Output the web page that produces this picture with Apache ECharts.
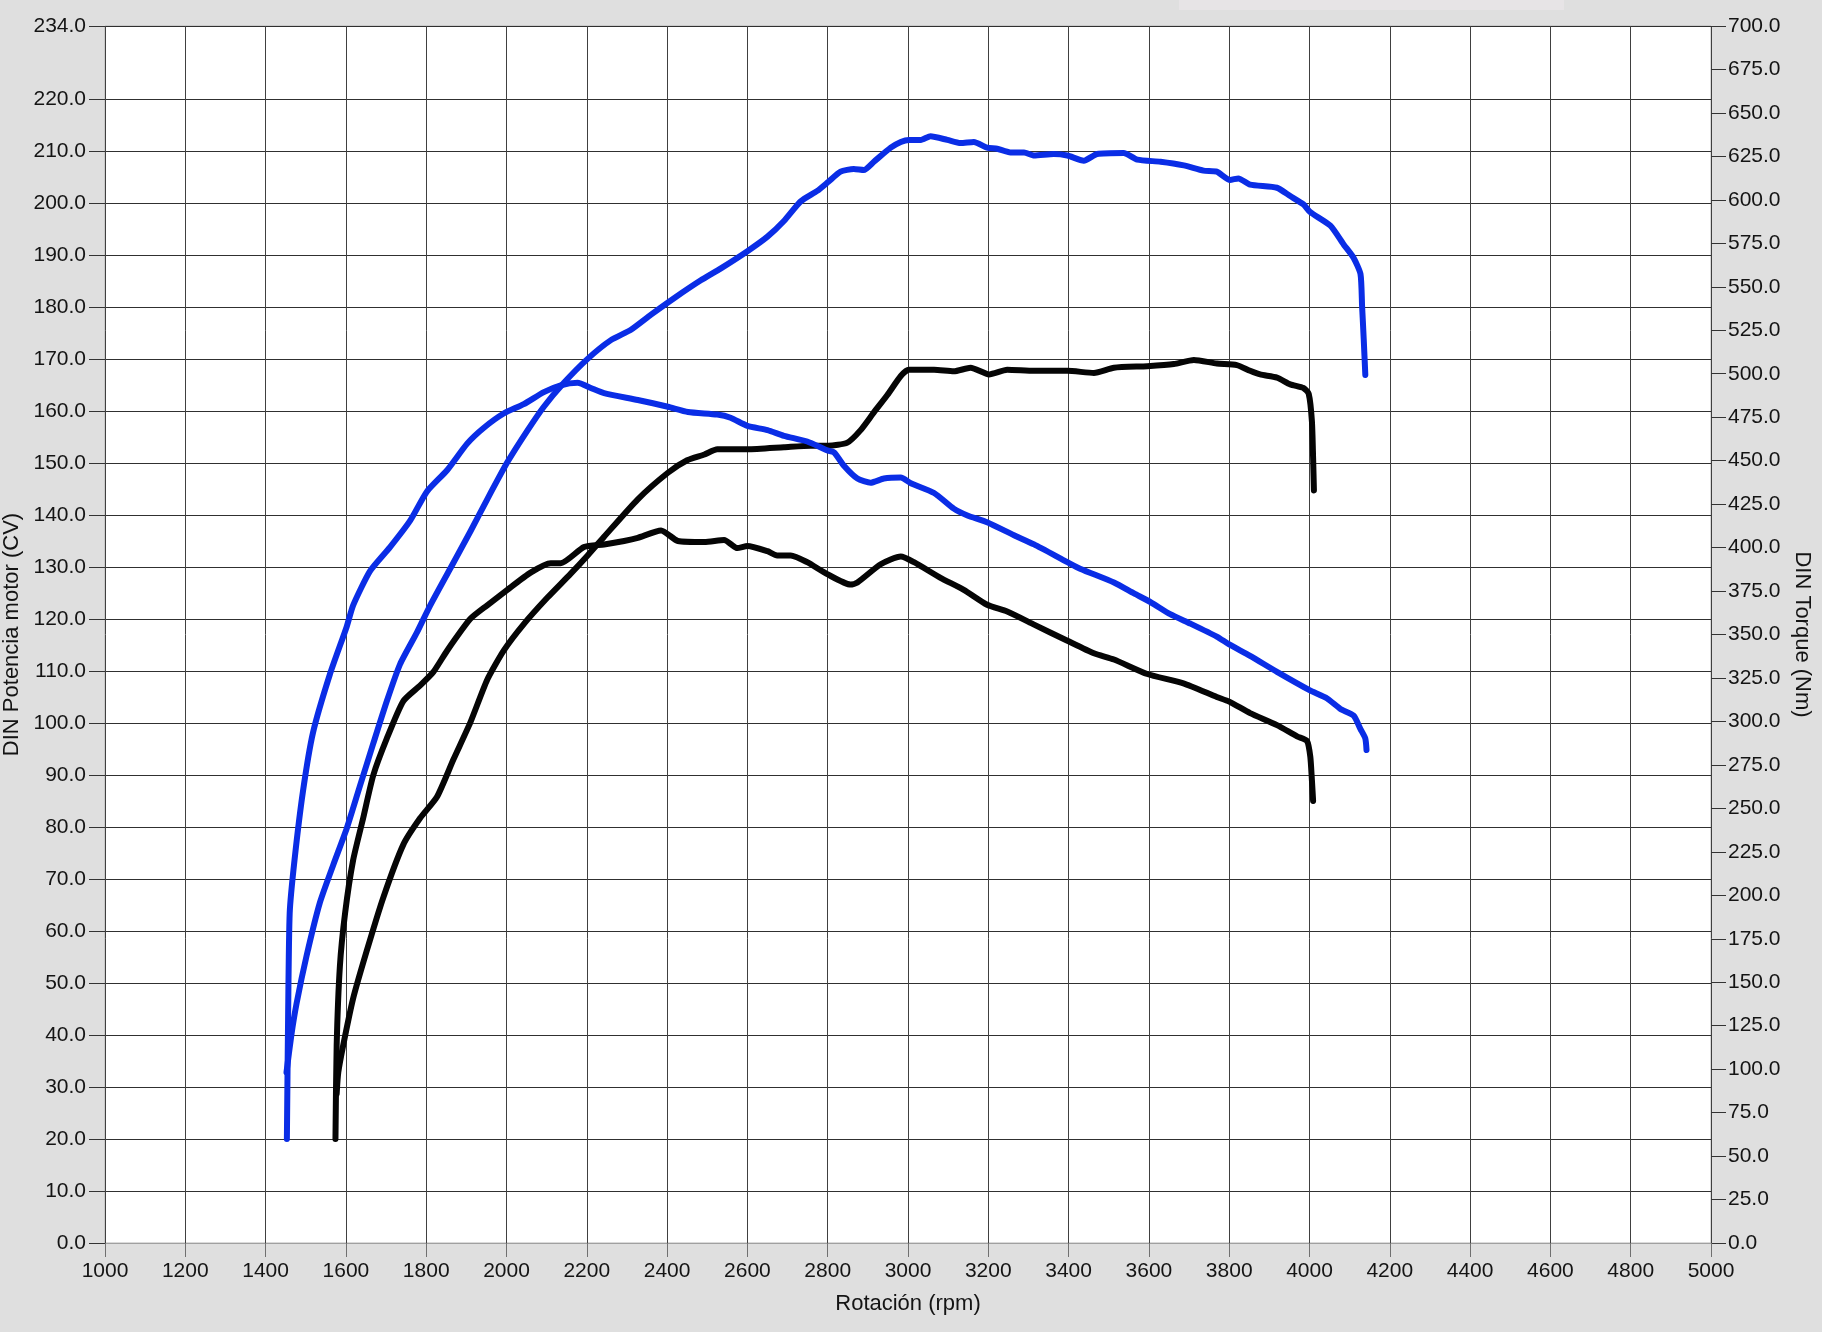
<!DOCTYPE html>
<html>
<head>
<meta charset="utf-8">
<script src="https://cdn.jsdelivr.net/npm/echarts@6/dist/echarts.min.js"></script>
<style>
  html, body { margin: 0; padding: 0; background: #dfdfdf; }
  #chart { width: 1822px; height: 1340px; }
</style>
</head>
<body>
<div id="chart"></div>
<script>
// ---- Data ----
const xTickStart = 1000, xTickEnd = 5000, xTickStep = 200;
const leftLabelValues = [0,10,20,30,40,50,60,70,80,90,100,110,120,130,140,150,160,170,180,190,200,210,220,234];

// Blue – power (CV, left axis)
const bluePowerRpm = [1452,1464,1477,1502,1535,1568,1602,1635,1668,1702,1735,1777,1810,1860,1910,1952,2002,2052,2093,2143,2202,2260,2310,2360,2420,2484,2534,2600,2650,2691,2733,2774,2801,2832,2865,2890,2915,2957,2982,3002,3032,3056,3098,3131,3164,3197,3222,3255,3289,3314,3363,3397,3438,3471,3537,3571,3629,3687,3736,3769,3802,3823,3852,3919,3952,3985,4002,4052,4085,4110,4127,4131,4135,4139];
const bluePowerCV  = [32.8,39.9,46,55.2,65.4,72.6,79.7,87.9,96,104.2,111.3,117.4,122.6,129.7,136.8,143,150.1,156.2,160.8,165.4,170,173.6,175.6,178.5,181.8,185.1,187.4,190.7,193.5,196.5,200.3,202.3,204,206,206.5,206.3,207.9,210.6,211.7,212.1,212.1,212.8,212.1,211.5,211.7,210.6,210.4,209.7,209.7,209.1,209.4,209.1,208.1,209.4,209.6,208.3,207.9,207.2,206.2,206,204.4,204.7,203.5,202.9,201.3,199.7,198.2,195.6,192,189.4,186.3,180.1,173.9,166.9];

// Blue – torque (Nm, right axis)
const blueTorqueRpm = [1453,1456,1460,1472,1493,1518,1560,1602,1618,1660,1710,1760,1802,1852,1902,1943,1993,2043,2093,2135,2177,2210,2243,2327,2402,2452,2525,2558,2600,2650,2691,2749,2799,2816,2841,2874,2907,2940,2982,3007,3065,3114,3148,3197,3264,3314,3397,3430,3513,3563,3605,3653,3703,3769,3800,3852,3919,4000,4044,4077,4110,4127,4139,4142];
const blueTorqueNm  = [59.8,128.6,189.7,220.2,259.7,293.5,327,354.5,366.8,386.5,400.3,415.5,432.3,444.5,459.8,468.8,477.1,482.5,489.4,493.3,494.8,491.8,488.8,484.9,481,478,476.5,474.7,470,467.6,464.3,461,455.9,454.7,446.9,439.7,437.3,439.7,440.3,437,431.4,422.4,418.5,414.6,407.1,401.8,391.6,387.7,379.9,373.6,368.5,361.7,356.3,348.8,344.3,337.7,328.5,318,313.2,307.2,303.3,295.6,290.2,283.6];

// Black – power (CV, left axis)
const blackPowerRpm = [1577,1581,1593,1618,1652,1693,1743,1785,1827,1868,1910,1952,1993,2043,2102,2160,2202,2243,2327,2402,2450,2493,2525,2600,2691,2758,2801,2849,2882,2915,2949,2982,3002,3065,3114,3156,3202,3247,3314,3397,3463,3513,3596,3662,3712,3769,3819,3852,3877,3919,3952,3985,3998,4006,4009,4011];
const blackPowerCV  = [28.7,32.8,37.9,47,56.2,66.4,76.6,81.7,85.8,93,100.1,108.3,113.9,119,124.1,128.7,132.2,135.8,143,148.1,150.5,151.6,152.6,152.6,153,153.3,153.3,153.9,156.3,159.7,163.1,166.7,167.9,167.9,167.6,168.3,167,167.9,167.7,167.7,167.3,168.3,168.6,169,169.8,169.1,168.8,167.7,167,166.4,165.1,164.4,163.3,158,150.9,144.7];

// Black – torque (Nm, right axis)
const blackTorqueRpm = [1574,1577,1585,1598,1618,1643,1668,1702,1743,1785,1818,1852,1910,1952,2002,2060,2110,2135,2193,2243,2293,2327,2385,2427,2493,2542,2575,2600,2650,2674,2708,2749,2799,2857,2874,2932,2982,3015,3081,3139,3197,3247,3314,3397,3463,3513,3596,3686,3769,3800,3852,3919,3969,3994,4002,4006,4009];
const blackTorqueNm  = [59.8,113.4,159.1,189.7,220.2,244.4,268.9,290.2,311.7,320.7,328.5,340.7,359,366.8,375.7,385.6,391,391,400.3,401.8,403.8,405.6,409.8,403.8,403.2,404.4,399.7,400.9,397.9,395.5,395.5,391.6,384.7,378.7,379.9,390.4,394.9,391.6,382.6,375.7,367.1,363.2,355.7,346.4,339.2,335.6,327.3,321.9,314.1,311.4,304.8,297.9,291.4,288.7,279.7,266.2,254.3];

const zip = (xs, ys) => xs.map((x, i) => [x, ys[i]]);

const FONT = "'Liberation Sans', Arial, Helvetica, sans-serif";
const TXT = '#141414';
const BLUE = '#0a2de6';
const BLACK = '#050505';

const chart = echarts.init(document.getElementById('chart'), null, { renderer: 'canvas' });

const lineSeries = (name, axis, data, color, z) => ({
  name, type: 'line', yAxisIndex: axis, data,
  showSymbol: false, smooth: 0.2,
  lineStyle: { color, width: 6, cap: 'round', join: 'round' }, z
});

const option = {
  animation: false,
  backgroundColor: '#dfdfdf',
  textStyle: { fontFamily: FONT, color: TXT },
  grid: {
    left: 105, right: 111, top: 26, bottom: 97,
    containLabel: false, outerBoundsMode: 'none',
    show: true, backgroundColor: '#ffffff', borderColor: '#b4b4b4', borderWidth: 1
  },
  graphic: [
    { type: 'rect', left: 0, top: 1332, shape: { width: 1822, height: 8 }, style: { fill: '#ffffff' }, silent: true },
    { type: 'rect', left: 1179, top: 0, shape: { width: 385, height: 10 }, style: { fill: '#e7e4e6' }, silent: true }
  ],
  xAxis: {
    type: 'value', min: xTickStart, max: xTickEnd, interval: xTickStep,
    name: 'Rotación (rpm)', nameLocation: 'middle', nameGap: 50,
    nameTextStyle: { fontSize: 22, color: TXT, fontFamily: FONT },
    axisLine: { show: true, onZero: false, lineStyle: { color: '#a0a0a0', width: 1 } },
    axisTick: { show: true, length: 14, inside: false, lineStyle: { color: '#707070', width: 1 } },
    axisLabel: { fontSize: 21, color: TXT, margin: 18, fontFamily: FONT, formatter: v => String(v) },
    splitLine: { show: true, lineStyle: { color: '#404040', width: 1 } }
  },
  yAxis: [
    {
      type: 'value', position: 'left', min: 0, max: 234, interval: 10,
      name: 'DIN Potencia motor (CV)', nameLocation: 'middle', nameGap: 80, nameRotate: 90,
      nameTextStyle: { fontSize: 22, color: TXT, fontFamily: FONT },
      axisLine: { show: false },
      axisTick: { show: true, length: 16, lineStyle: { color: '#333', width: 1 }, customValues: leftLabelValues },
      axisLabel: { fontSize: 21, color: TXT, margin: 19, fontFamily: FONT, customValues: leftLabelValues,
        formatter: v => (v === 230 ? '' : Number(v).toFixed(1)) },
      splitLine: { show: true, lineStyle: { color: '#303030', width: 1 } }
    },
    {
      type: 'value', position: 'right', min: 0, max: 700, interval: 25,
      name: 'DIN Torque (Nm)', nameLocation: 'middle', nameGap: 76, nameRotate: -90,
      nameTextStyle: { fontSize: 22, color: TXT, fontFamily: FONT },
      axisLine: { show: false },
      axisTick: { show: true, length: 15, lineStyle: { color: '#333', width: 1 } },
      axisLabel: { fontSize: 21, color: TXT, margin: 17, fontFamily: FONT, formatter: v => Number(v).toFixed(1) },
      splitLine: { show: false }
    }
  ],
  series: [
    lineSeries('Potencia negro', 0, zip(blackPowerRpm, blackPowerCV), BLACK, 3),
    lineSeries('Torque negro', 1, zip(blackTorqueRpm, blackTorqueNm), BLACK, 3),
    lineSeries('Potencia azul', 0, zip(bluePowerRpm, bluePowerCV), BLUE, 4),
    lineSeries('Torque azul', 1, zip(blueTorqueRpm, blueTorqueNm), BLUE, 4)
  ]
};

chart.setOption(option);
</script>
</body>
</html>
